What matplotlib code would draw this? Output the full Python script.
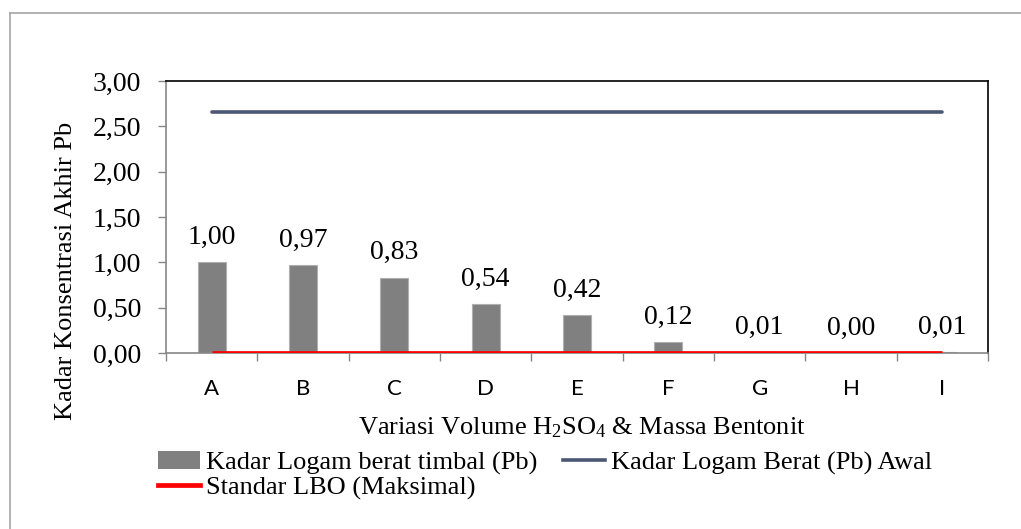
import matplotlib
matplotlib.use("Agg")
import matplotlib.pyplot as plt
import numpy as np
from matplotlib.lines import Line2D
from matplotlib.patches import Patch
from matplotlib.ticker import FuncFormatter, MultipleLocator

# data
categories = ["A", "B", "C", "D", "E", "F", "G", "H", "I"]
kadar_pb = [1.00, 0.97, 0.83, 0.54, 0.42, 0.12, 0.01, 0.00, 0.01]
kadar_awal = [2.66] * len(categories)
standar_lbo = [0.0] * len(categories)

serif = "Liberation Serif"
W, H = 1021, 529

plt.rcParams["mathtext.fontset"] = "custom"
plt.rcParams["mathtext.rm"] = serif
plt.rcParams["mathtext.it"] = serif


def comma(v, pos=None):
    return f"{v:.2f}".replace(".", ",")


fig = plt.figure(figsize=(W / 100, H / 100), dpi=100)
ax = fig.add_axes([166 / W, 1 - 353 / H, (988 - 166) / W, (353 - 81) / H])

x = np.arange(len(categories))
ax.bar(x, kadar_pb, width=0.31, color="#808080", edgecolor="#b0b0b0",
       linewidth=0.8, zorder=2)
ax.plot(x, kadar_awal, color="#4a5874", lw=2.6, solid_capstyle="round", zorder=3)
ax.plot(x, standar_lbo, color="#ff0000", lw=3.4, solid_capstyle="butt", zorder=4)

for xi, v in zip(x, kadar_pb):
    ax.annotate(comma(v), (xi, v), xytext=(0, 18), textcoords="offset points",
                ha="center", va="center", fontsize=20, family=serif)

ax.set_xlim(-0.5, len(categories) - 0.5)
ax.set_ylim(0, 3.0)
ax.yaxis.set_major_locator(MultipleLocator(0.5))
ax.yaxis.set_major_formatter(FuncFormatter(comma))
ax.set_xticks(x)
ax.set_xticklabels(categories, family="Lato", fontsize=16)
ax.set_xticks(np.arange(len(categories) + 1) - 0.5, minor=True)
ax.tick_params(axis="x", which="major", length=0, pad=19)
ax.tick_params(axis="x", which="minor", length=6, width=1, color="#868686")
ax.tick_params(axis="y", length=6, width=1, color="#868686", pad=12)
for lab in ax.get_yticklabels():
    lab.set_family(serif)
    lab.set_fontsize(20)

for side in ("left", "bottom"):
    ax.spines[side].set_color("#868686")
    ax.spines[side].set_linewidth(1.2)
for side in ("top", "right"):
    ax.spines[side].set_color("black")
    ax.spines[side].set_linewidth(1.2)

fig.text(582 / W, 1 - 428 / H, r"Variasi Volume H$_2$SO$_4$ & Massa Bentonit",
         ha="center", va="center", fontsize=19, family=serif)
fig.text(66 / W, 1 - 271 / H, "Kadar Konsentrasi Akhir Pb", rotation=90,
         ha="center", va="center", fontsize=19, family=serif)

handles = [
    Patch(facecolor="#808080", edgecolor="none"),
    Line2D([], [], color="#ff0000", lw=3.4),
    Line2D([], [], color="#4a5874", lw=2.6),
]
labels = ["Kadar Logam berat timbal (Pb)", "Standar LBO (Maksimal)",
          "Kadar Logam Berat (Pb) Awal"]
fig.legend(handles, labels, ncol=2, loc="upper left",
           bbox_to_anchor=(158 / W, 1 - 451 / H), frameon=False,
           prop={"family": serif, "size": 19}, handlelength=1.6,
           handletextpad=0.2, labelspacing=0.05, columnspacing=1.0,
           borderpad=0, borderaxespad=0)

# outer chart-area frame (only top and left edges are inside the crop)
fig.add_artist(Line2D([10 / W, 10 / W], [0, 1 - 13 / H], color="#a6a6a6", lw=1.2,
                      transform=fig.transFigure))
fig.add_artist(Line2D([10 / W, 1], [1 - 13 / H, 1 - 13 / H], color="#a6a6a6", lw=1.2,
                      transform=fig.transFigure))

fig.savefig("out.png", dpi=100)
